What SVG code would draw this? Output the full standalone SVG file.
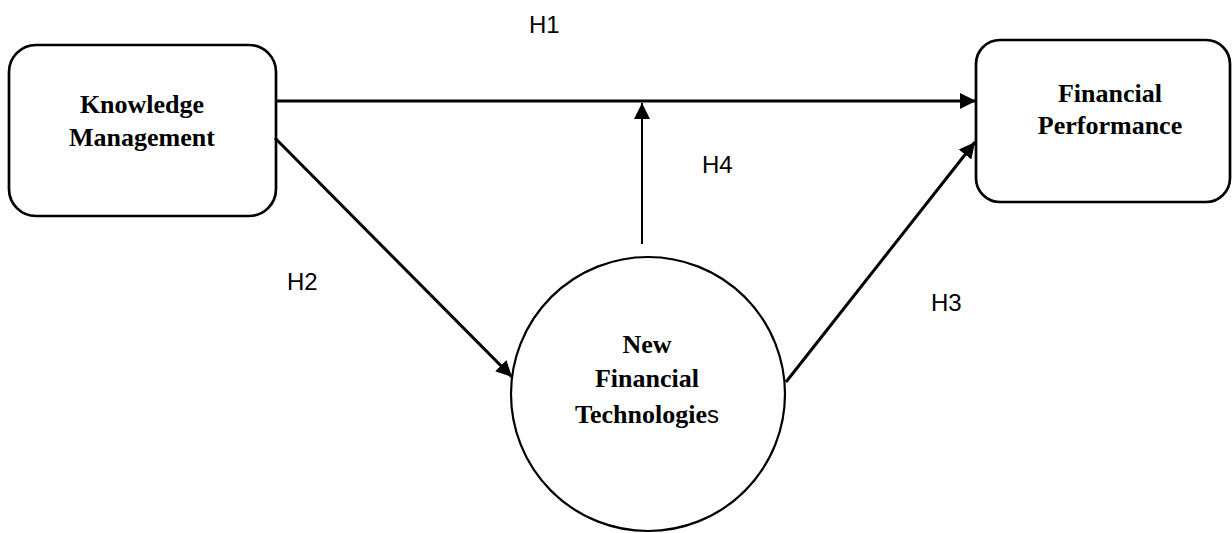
<svg xmlns="http://www.w3.org/2000/svg" width="1232" height="533" viewBox="0 0 1232 533">
<style>
.box{fill:#fff;stroke:#000;stroke-width:2.7}
.circ{fill:#fff;stroke:#000;stroke-width:2.2}
.t{font-family:"Liberation Serif","Times New Roman",serif;font-weight:bold;font-size:26px;fill:#000;text-anchor:middle}
.s{font-family:"Liberation Serif",serif;font-weight:normal}
.lbl{font-family:"Liberation Sans",Arial,sans-serif;font-size:24px;fill:#000}
.c{fill:none;stroke:#000;stroke-width:3}
.c2{fill:none;stroke:#000;stroke-width:2}
</style>
<defs>
<marker id="ah" viewBox="0 0 16 16" refX="16" refY="8" markerWidth="16" markerHeight="16" markerUnits="userSpaceOnUse" orient="auto">
<path d="M0,0 L16,8 L0,16 Z" fill="#000"/>
</marker>
</defs>
<rect width="1232" height="533" fill="#fff"/>
<g id="km">
<rect class="box" x="9" y="45" width="267" height="171" rx="27" ry="27"/>
<text class="t" x="142" y="113">Knowledge</text>
<text class="t" x="142" y="146">Management</text>
</g>
<g id="fp">
<rect class="box" x="976" y="40" width="254" height="162" rx="24" ry="24"/>
<text class="t" x="1110" y="102">Financial</text>
<text class="t" x="1110" y="134">Performance</text>
</g>
<g id="nft">
<circle class="circ" cx="648" cy="394" r="137"/>
<text class="t" x="647" y="353">New</text>
<text class="t" x="647" y="387">Financial</text>
<text class="t" x="647" y="423">Technologie<tspan style="font-family:'Liberation Sans',Arial,sans-serif;font-weight:normal;font-size:24px">s</tspan></text>
</g>
<g id="connectors">
<line class="c" x1="277" y1="101" x2="976" y2="101" marker-end="url(#ah)"/>
<line class="c" x1="275" y1="138" x2="512" y2="377" marker-end="url(#ah)"/>
<line class="c" x1="786" y1="382" x2="975" y2="142" marker-end="url(#ah)"/>
<line class="c2" x1="642" y1="244" x2="642" y2="103" marker-end="url(#ah)"/>
</g>
<g id="labels">
<text class="lbl" x="529" y="33">H1</text>
<text class="lbl" x="287" y="290">H2</text>
<text class="lbl" x="931" y="311">H3</text>
<text class="lbl" x="702" y="173">H4</text>
</g>
</svg>
